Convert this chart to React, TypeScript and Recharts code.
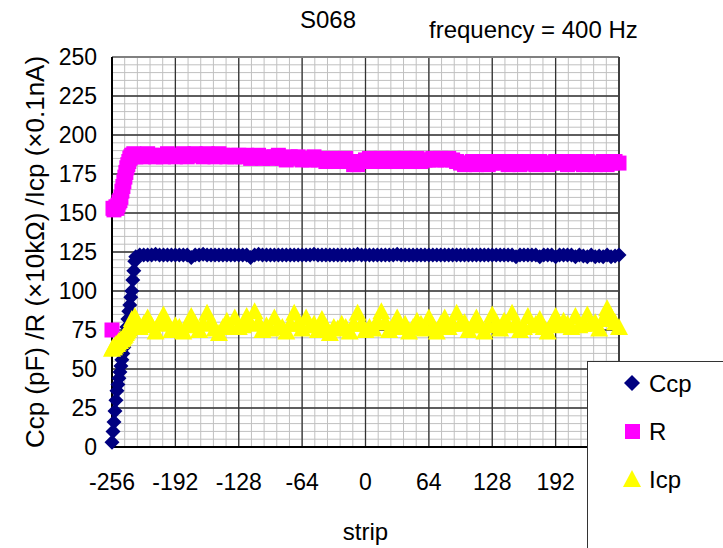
import React from "react";
import {
  ScatterChart,
  Scatter,
  XAxis,
  YAxis,
  CartesianGrid,
  ReferenceLine,
} from "recharts";

// strip numbers (fine steps on the rising edge, every 4th strip afterwards)
const strips = [
  -256, -255, -254, -253, -252, -251, -250, -249, -248, -247, -246, -245, -244,
  -243, -242, -241, -240, -239, -238, -237, -236, -235, -234, -233, -232,
  -228, -224, -220, -216, -212, -208, -204, -200, -196, -192,
  -188, -184, -180, -176, -172, -168, -164, -160, -156, -152, -148, -144, -140, -136, -132, -128,
  -124, -120, -116, -112, -108, -104, -100, -96, -92, -88, -84, -80, -76, -72, -68, -64,
  -60, -56, -52, -48, -44, -40, -36, -32, -28, -24, -20, -16, -12, -8, -4, 0,
  4, 8, 12, 16, 20, 24, 28, 32, 36, 40, 44, 48, 52, 56, 60, 64,
  68, 72, 76, 80, 84, 88, 92, 96, 100, 104, 108, 112, 116, 120, 124, 128,
  132, 136, 140, 144, 148, 152, 156, 160, 164, 168, 172, 176, 180, 184, 188, 192,
  196, 200, 204, 208, 212, 216, 220, 224, 228, 232, 236, 240, 244, 248, 252, 256,
];

// Ccp (pF)
const ccp = [
  3, 10, 16, 23, 30, 36, 40, 44, 48, 52, 56, 60, 64, 68, 73, 77, 82, 87, 91, 96, 100, 107, 113, 119, 122,
  123, 123, 123, 123, 123.5, 123, 123, 123, 123, 123,
  123, 123, 123, 121.5, 123, 123, 123.5, 123, 123, 123, 123, 123, 123, 123, 123, 123,
  123, 123, 121.5, 123, 123.5, 123, 123, 123, 123, 123, 123, 123, 123, 123, 123, 123,
  123, 123, 123.5, 123, 123, 123, 123, 123, 123, 123, 123, 123, 123, 123.5, 123, 123,
  123, 123, 123, 123, 123, 123, 123, 123.5, 123, 123, 123, 123, 123, 123, 123, 123,
  123, 123, 123, 123, 123, 123, 123, 123, 123, 123, 123, 123, 123, 123, 123, 123,
  123, 123, 123, 123, 123, 122, 123, 123, 123, 123, 123, 122, 123, 123, 123, 122,
  123, 123, 123, 123, 122, 123, 122.5, 122, 123, 122, 122.5, 122, 123, 122, 122.5, 123,
];

// R (x10 kOhm)
const res = [
  75, 153, 152, 153, 154, 153, 155, 157, 158, 160, 164, 167, 170, 173, 176, 179, 181, 183, 185, 186, 187, 187, 188, 187, 186,
  187, 186, 188, 187, 186, 187, 186, 188, 187, 186,
  187, 188, 186, 187, 188, 187, 186, 188, 187, 186, 188, 187, 186, 187, 186, 187,
  186, 187, 185, 186, 187, 185, 186, 185, 186, 187, 185, 184, 186, 185, 186, 184,
  185, 184, 186, 184, 185, 183, 184, 185, 183, 184, 185, 183, 181, 181, 183, 184,
  185, 183, 184, 185, 183, 184, 185, 183, 184, 185, 183, 184, 185, 183, 184, 184,
  185, 184, 185, 184, 185, 184, 183, 182, 181, 182, 183, 181, 182, 183, 181, 182,
  183, 182, 183, 181, 182, 183, 181, 182, 183, 182, 181, 183, 182, 181, 182, 183,
  182, 183, 181, 182, 183, 182, 181, 183, 182, 181, 182, 183, 181, 182, 183, 182,
];

// Icp (x0.1 nA)
const icp = [
  63, 64, 64, 65, 66, 66, 67, 68, 68, 69, 69, 70, 71, 72, 73, 74, 75, 76, 77, 78, 82, 79, 80, 84, 78,
  77, 79, 83, 78, 74, 80, 85, 79, 75, 78,
  77, 74, 78, 84, 79, 75, 79, 86, 80, 76, 73, 77, 81, 77, 83, 77,
  78, 84, 79, 87, 80, 75, 78, 76, 83, 78, 77, 74, 79, 86, 79, 76,
  83, 78, 79, 75, 82, 77, 73, 77, 76, 79, 77, 74, 79, 86, 79, 75,
  77, 76, 81, 87, 80, 75, 78, 83, 77, 79, 74, 77, 81, 79, 76, 83,
  78, 74, 79, 83, 77, 79, 86, 79, 80, 75, 78, 83, 78, 74, 78, 85,
  80, 76, 81, 78, 86, 80, 75, 77, 84, 78, 79, 82, 77, 74, 79, 84,
  78, 81, 79, 77, 84, 78, 79, 85, 79, 80, 76, 82, 89, 84, 80, 77,
];

const xTicks = [-256, -192, -128, -64, 0, 64, 128, 192, 256];
const yTicks = [0, 25, 50, 75, 100, 125, 150, 175, 200, 225, 250];

const ccpData = strips.map((s, i) => ({ x: s, y: ccp[i] }));
const resData = strips.map((s, i) => ({ x: s, y: res[i] }));
const icpData = strips.map((s, i) => ({ x: s, y: icp[i] }));

// minor grid: 5 divisions per major step
const minorX: number[] = [];
for (let v = -256; v <= 256.01; v += 12.8) minorX.push(v);
const minorY: number[] = [];
for (let v = 0; v <= 250; v += 5) minorY.push(v);

const FONT = "'Liberation Sans', Arial, sans-serif";

const Diamond = (p: any) => {
  const { cx, cy } = p;
  const r = 7.5;
  return <polygon points={`${cx},${cy - r} ${cx + r},${cy} ${cx},${cy + r} ${cx - r},${cy}`} fill="#000080" />;
};
const Square = (p: any) => {
  const { cx, cy } = p;
  const h = 7.5;
  return <rect x={cx - h} y={cy - h} width={h * 2} height={h * 2} fill="#ff00ff" />;
};
const Triangle = (p: any) => {
  const { cx, cy } = p;
  return <polygon points={`${cx},${cy - 9} ${cx + 9},${cy + 8} ${cx - 9},${cy + 8}`} fill="#ffff00" />;
};

export default function App() {
  return (
    <div style={{ position: "absolute", left: 0, top: 0, width: 723, height: 548, background: "#fff", fontFamily: FONT }}>
      <ScatterChart width={723} height={548} margin={{ top: 57, right: 104, bottom: 41, left: 0 }}>
        <CartesianGrid verticalValues={minorX} horizontalValues={minorY} stroke="#c0c0c0" strokeWidth={1} />
        <CartesianGrid verticalValues={xTicks} horizontalValues={yTicks} stroke="#333" strokeWidth={1.3} />
        <XAxis
          type="number"
          dataKey="x"
          domain={[-256, 256]}
          ticks={xTicks}
          interval={0}
          tickLine={false}
          tickSize={0}
          tickMargin={27}
          height={60}
          axisLine={{ stroke: "#000", strokeWidth: 2 }}
          tick={{ fill: "#000", fontSize: 23, fontFamily: FONT }}
          label={{ value: "strip", position: "bottom", offset: 16, style: { fill: "#000", fontSize: 24, fontFamily: FONT } }}
        />
        <YAxis
          type="number"
          dataKey="y"
          domain={[0, 250]}
          ticks={yTicks}
          interval={0}
          width={112}
          tickLine={false}
          tickSize={0}
          tickMargin={15}
          axisLine={{ stroke: "#000", strokeWidth: 2 }}
          tick={{ fill: "#000", fontSize: 23, fontFamily: FONT }}
          label={{
            value: "Ccp (pF) /R (×10kΩ) /Icp (×0.1nA)",
            angle: -90,
            position: "insideLeft",
            offset: 35,
            style: { textAnchor: "middle", fill: "#000", fontSize: 26, fontFamily: FONT },
          }}
        />
        <ReferenceLine y={250} stroke="#808080" strokeWidth={2} />
        <ReferenceLine x={256} stroke="#404040" strokeWidth={2} />
        <Scatter name="Ccp" data={ccpData} shape={Diamond} isAnimationActive={false} />
        <Scatter name="R" data={resData} shape={Square} isAnimationActive={false} />
        <Scatter name="Icp" data={icpData} shape={Triangle} isAnimationActive={false} />
      </ScatterChart>
      <svg width={723} height={548} style={{ position: "absolute", left: 0, top: 0, pointerEvents: "none" }}>
        <text x={328} y={28} textAnchor="middle" fontSize={24} fontFamily={FONT} fill="#000">S068</text>
        <text x={429} y={38} fontSize={24} fontFamily={FONT} fill="#000">frequency = 400 Hz</text>
        <rect x={587.5} y={361.5} width={150} height={200} fill="#fff" stroke="#333" strokeWidth={1} />
        <polygon points="632,375 640,383 632,391 624,383" fill="#000080" />
        <text x={649} y={392} fontSize={24} fontFamily={FONT} fill="#000">Ccp</text>
        <rect x={625} y={424} width={15} height={15} fill="#ff00ff" />
        <text x={649} y={440} fontSize={24} fontFamily={FONT} fill="#000">R</text>
        <polygon points="632,470 641,487 623,487" fill="#ffff00" />
        <text x={649} y={488} fontSize={24} fontFamily={FONT} fill="#000">Icp</text>
      </svg>
    </div>
  );
}
